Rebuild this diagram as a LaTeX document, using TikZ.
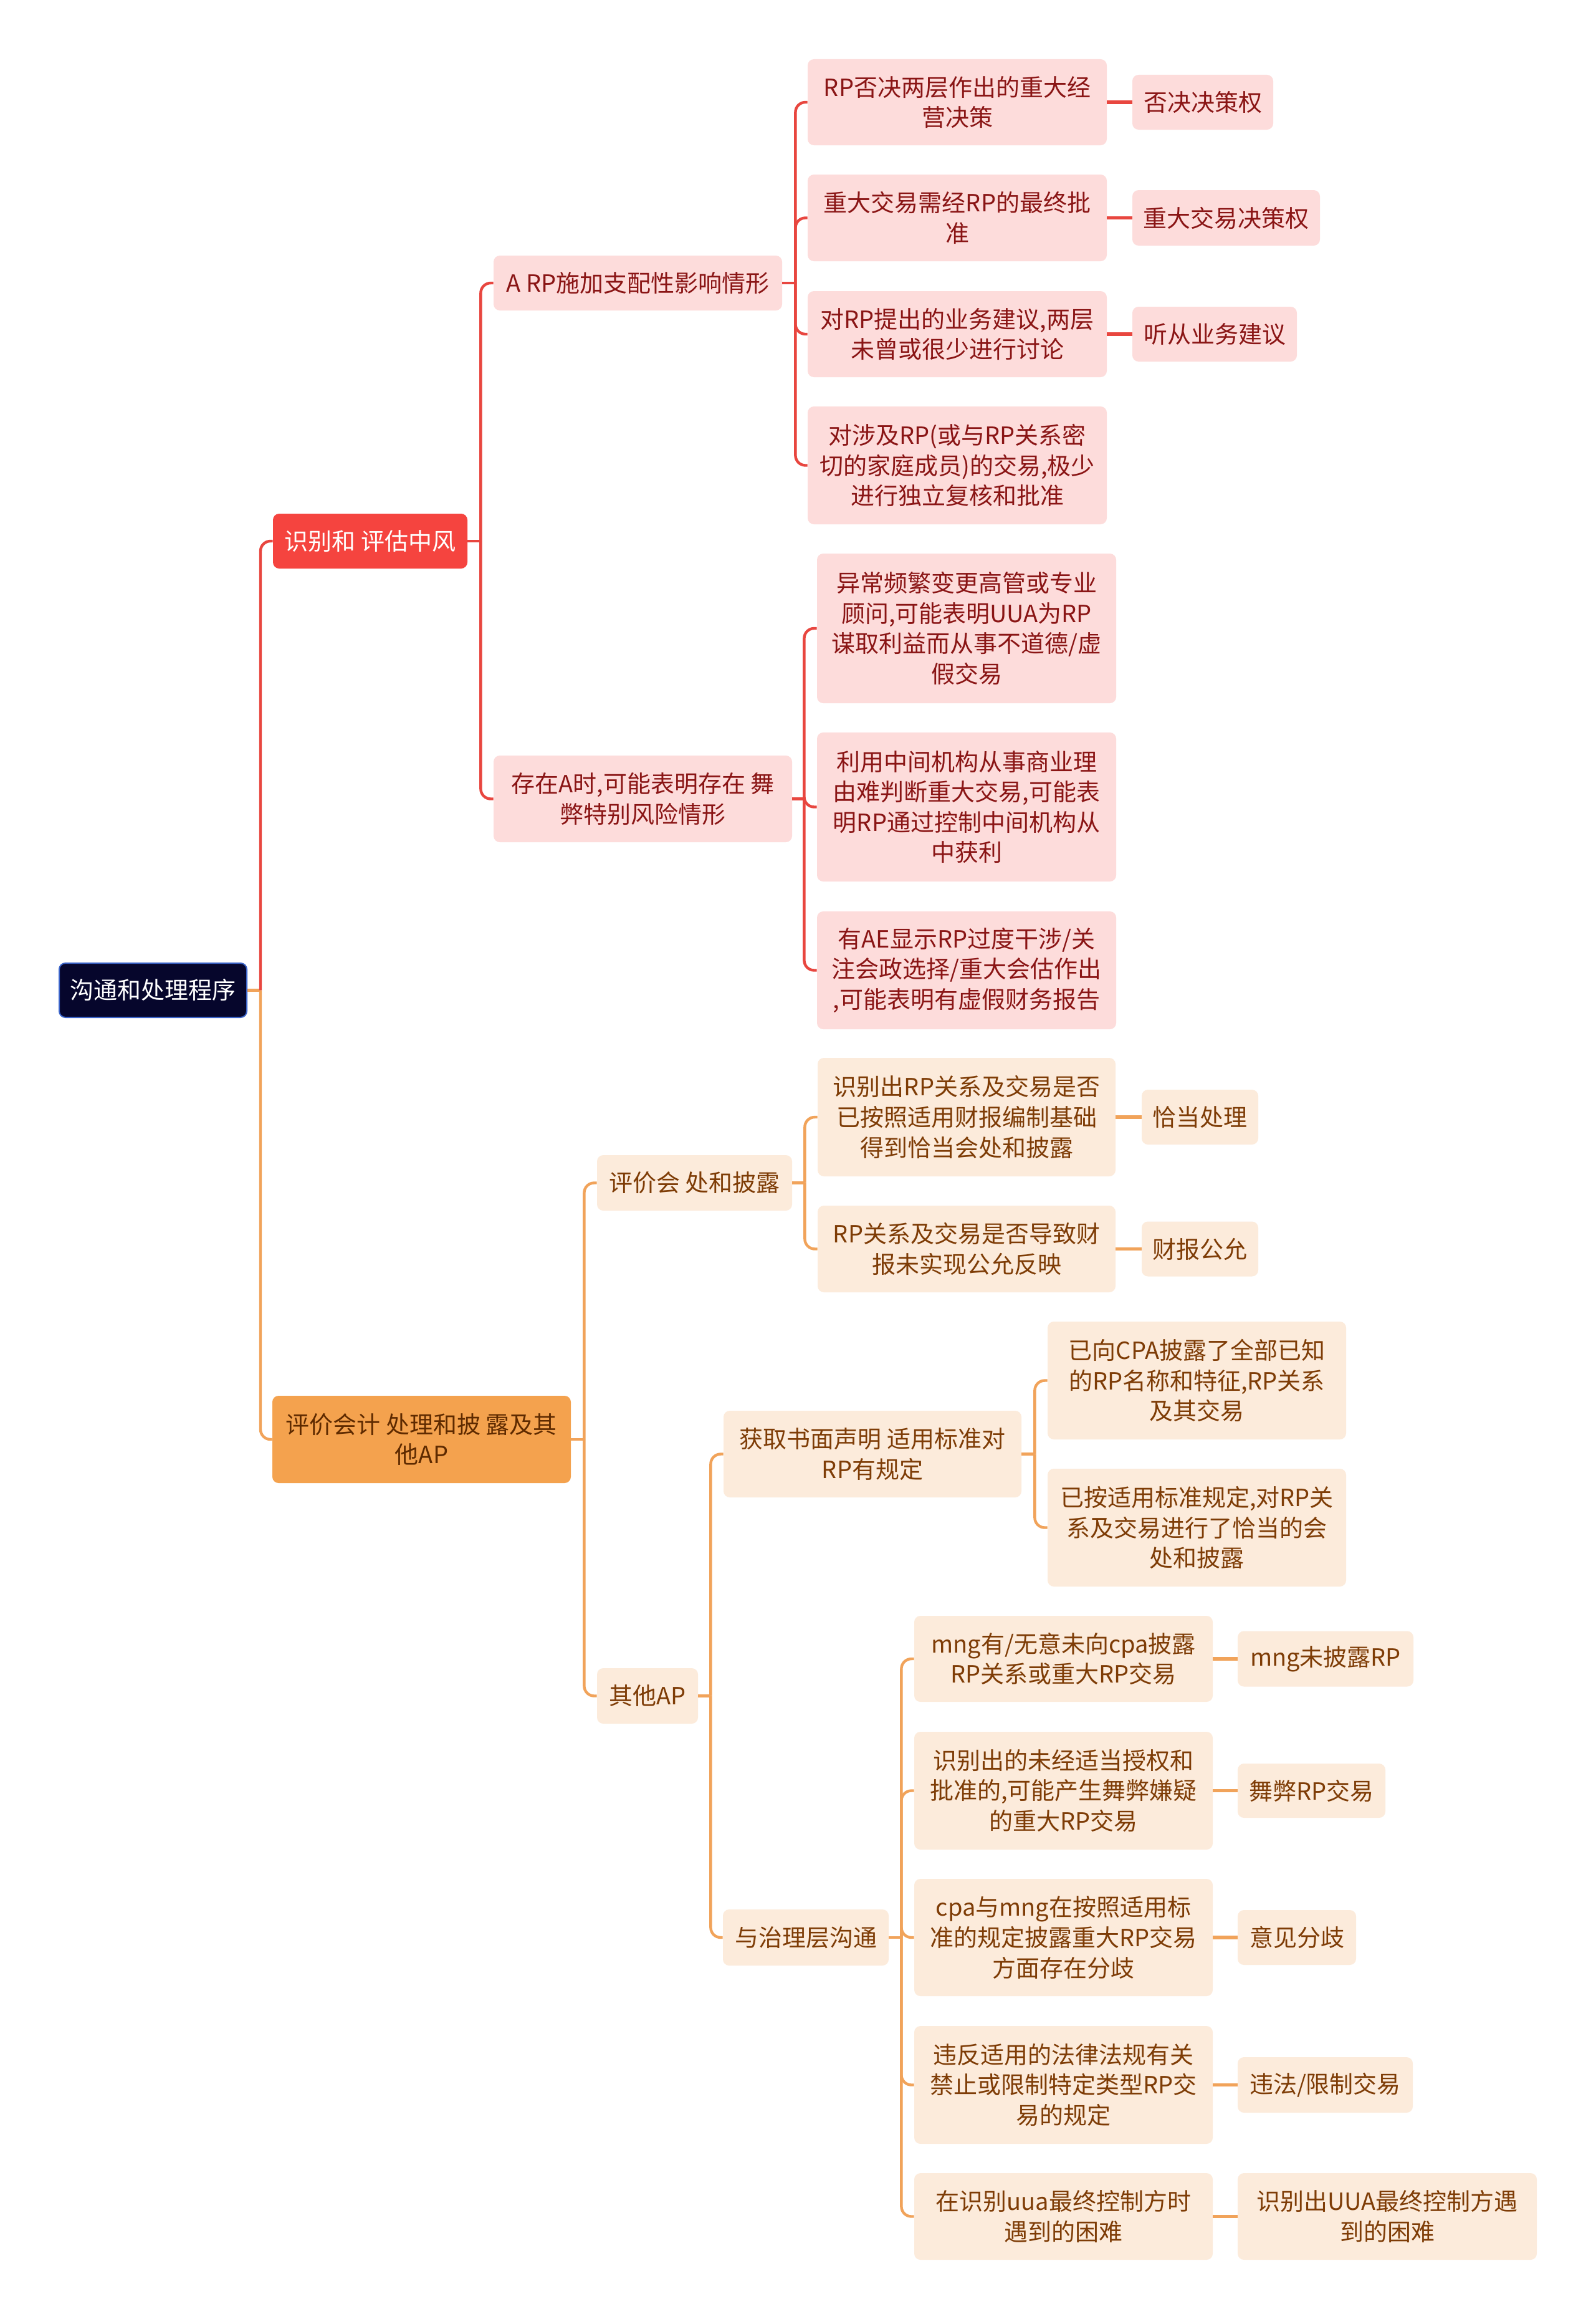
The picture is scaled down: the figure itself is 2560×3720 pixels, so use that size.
\documentclass[tikz,border=0pt]{standalone}
\usepackage{fontspec}
\setmainfont{Noto Sans CJK SC}
\definecolor{redline}{HTML}{E8463F}
\definecolor{orline}{HTML}{F1A35A}
\definecolor{pinkfill}{HTML}{FDDCDB}
\definecolor{pinktext}{HTML}{8A1515}
\definecolor{orfill}{HTML}{FCEBDB}
\definecolor{ortext}{HTML}{7E3C06}
\definecolor{rootfill}{HTML}{06062C}
\definecolor{rootdraw}{HTML}{3A63C8}
\definecolor{redfill}{HTML}{F5443F}
\definecolor{orfilltwo}{HTML}{F4A24E}
\definecolor{ortexttwo}{HTML}{5E2A00}
\begin{document}
\begin{tikzpicture}[x=0.5pt,y=-0.5pt,
  box/.style={rounded corners=5pt, inner sep=0pt, align=center,
    font=\fontsize{19}{24.3}\selectfont},
  rootbox/.style={box, fill=rootfill, draw=rootdraw, line width=1pt, text=white},
  redbox/.style={box, fill=redfill, text=white},
  orbig/.style={box, fill=orfilltwo, text=ortexttwo},
  pinkbox/.style={box, fill=pinkfill, text=pinktext},
  orbox/.style={box, fill=orfill, text=ortext},
  rl/.style={draw=redline, line width=2.2pt, rounded corners=8pt},
  ol/.style={draw=orline, line width=2.2pt, rounded corners=8pt},
  rleaf/.style={draw=redline, line width=2.6pt},
  oleaf/.style={draw=orline, line width=2.6pt}]
\useasboundingbox[fill=white] (0,0) rectangle (2560,3720);

% root and level 1
\node[rootbox, minimum width=150.5pt, minimum height=43.5pt] (root) at (245.5,1588.5) {沟通和处理程序};
\node[redbox, minimum width=156pt, minimum height=44pt] (n1) at (594,868) {识别和 评估中风};
\node[orbig, minimum width=239.5pt, minimum height=70pt] (n2) at (676.5,2309) {评价会计 处理和披 露及其\\他AP};

% level 2 red
\node[pinkbox, minimum width=231.5pt, minimum height=44pt] (n11) at (1023.5,454) {A RP施加支配性影响情形};
\node[pinkbox, minimum width=239.5pt, minimum height=69.5pt] (n12) at (1031.5,1281.5) {存在A时,可能表明存在 舞\\弊特别风险情形};

% level 3 under n11
\node[pinkbox, minimum width=240pt, minimum height=69pt] (n111) at (1536,164) {RP否决两层作出的重大经\\营决策};
\node[pinkbox, minimum width=240pt, minimum height=69.5pt] (n112) at (1536,349.5) {重大交易需经RP的最终批\\准};
\node[pinkbox, minimum width=240pt, minimum height=69pt] (n113) at (1536,536) {对RP提出的业务建议,两层\\未曾或很少进行讨论};
\node[pinkbox, minimum width=240pt, minimum height=94.5pt] (n114) at (1536,746.5) {对涉及RP(或与RP关系密\\切的家庭成员)的交易,极少\\进行独立复核和批准};
\node[pinkbox, minimum width=113pt, minimum height=44pt] (n1111) at (1930,164) {否决决策权};
\node[pinkbox, minimum width=150.5pt, minimum height=44.5pt] (n1121) at (1967.5,349.5) {重大交易决策权};
\node[pinkbox, minimum width=132pt, minimum height=44pt] (n1131) at (1949,536) {听从业务建议};

% level 3 under n12
\node[pinkbox, minimum width=240pt, minimum height=120pt] (n121) at (1551,1008) {异常频繁变更高管或专业\\顾问,可能表明UUA为RP\\谋取利益而从事不道德/虚\\假交易};
\node[pinkbox, minimum width=240pt, minimum height=119.5pt] (n122) at (1551,1294.5) {利用中间机构从事商业理\\由难判断重大交易,可能表\\明RP通过控制中间机构从\\中获利};
\node[pinkbox, minimum width=240pt, minimum height=94.5pt] (n123) at (1551,1556.5) {有AE显示RP过度干涉/关\\注会政选择/重大会估作出\\,可能表明有虚假财务报告};

% level 2 orange
\node[orbox, minimum width=156.5pt, minimum height=44.5pt] (n21) at (1114.5,1897.5) {评价会 处和披露};
\node[orbox, minimum width=81pt, minimum height=44.5pt] (n22) at (1039,2720.5) {其他AP};

\node[orbox, minimum width=239pt, minimum height=95pt] (n211) at (1551,1792) {识别出RP关系及交易是否\\已按照适用财报编制基础\\得到恰当会处和披露};
\node[orbox, minimum width=239pt, minimum height=69.5pt] (n212) at (1551,2003.5) {RP关系及交易是否导致财\\报未实现公允反映};
\node[orbox, minimum width=93.5pt, minimum height=44pt] (n2111) at (1925.5,1792) {恰当处理};
\node[orbox, minimum width=93.5pt, minimum height=44pt] (n2121) at (1925.5,2003.5) {财报公允};

\node[orbox, minimum width=239pt, minimum height=69.5pt] (n221) at (1400,2332.5) {获取书面声明 适用标准对\\RP有规定};
\node[orbox, minimum width=133pt, minimum height=45pt] (n222) at (1293,3108) {与治理层沟通};

\node[orbox, minimum width=239.5pt, minimum height=94.5pt] (n2211) at (1920.5,2214.5) {已向CPA披露了全部已知\\的RP名称和特征,RP关系\\及其交易};
\node[orbox, minimum width=239.5pt, minimum height=94.5pt] (n2212) at (1920.5,2450.5) {已按适用标准规定,对RP关\\系及交易进行了恰当的会\\处和披露};

\node[orbox, minimum width=239.5pt, minimum height=69pt] (n2221) at (1706.5,2661) {mng有/无意未向cpa披露\\RP关系或重大RP交易};
\node[orbox, minimum width=239.5pt, minimum height=94.5pt] (n2222) at (1706.5,2872.5) {识别出的未经适当授权和\\批准的,可能产生舞弊嫌疑\\的重大RP交易};
\node[orbox, minimum width=239.5pt, minimum height=94pt] (n2223) at (1706.5,3108) {cpa与mng在按照适用标\\准的规定披露重大RP交易\\方面存在分歧};
\node[orbox, minimum width=239.5pt, minimum height=94.5pt] (n2224) at (1706.5,3344.5) {违反适用的法律法规有关\\禁止或限制特定类型RP交\\易的规定};
\node[orbox, minimum width=239.5pt, minimum height=69.5pt] (n2225) at (1706.5,3555.5) {在识别uua最终控制方时\\遇到的困难};

\node[orbox, minimum width=141pt, minimum height=44.5pt] (n22211) at (2127,2661) {mng未披露RP};
\node[orbox, minimum width=118.5pt, minimum height=43.5pt] (n22221) at (2104.5,2872.5) {舞弊RP交易};
\node[orbox, minimum width=95pt, minimum height=44pt] (n22231) at (2081,3108) {意见分歧};
\node[orbox, minimum width=140.5pt, minimum height=44.5pt] (n22241) at (2126.5,3344.5) {违法/限制交易};
\node[orbox, minimum width=240pt, minimum height=69.5pt] (n22251) at (2226,3555.5) {识别出UUA最终控制方遇\\到的困难};

% connectors: root
\draw[ol] (root.east) -- ++(21,0) coordinate (t0);
\draw[rl] (t0) |- (n1.west);
\draw[ol] (t0) |- (n2.west);
% n1
\draw[rl] (n1.east) -- ++(21,0) coordinate (t1);
\draw[rl] (t1) |- (n11.west);
\draw[rl] (t1) |- (n12.west);
% n11
\draw[rl] (n11.east) -- ++(21,0) coordinate (t11);
\foreach \c in {n111,n112,n113,n114} \draw[rl] (t11) |- (\c.west);
\draw[rleaf] (n111.east) -- (n1111.west);
\draw[rleaf] (n112.east) -- (n1121.west);
\draw[rleaf] (n113.east) -- (n1131.west);
% n12
\draw[rl] (n12.east) -- ++(19,0) coordinate (t12);
\foreach \c in {n121,n122,n123} \draw[rl] (t12) |- (\c.west);
% n2
\draw[ol] (n2.east) -- ++(21,0) coordinate (t2);
\draw[ol] (t2) |- (n21.west);
\draw[ol] (t2) |- (n22.west);
% n21
\draw[ol] (n21.east) -- ++(20,0) coordinate (t21);
\draw[ol] (t21) |- (n211.west);
\draw[ol] (t21) |- (n212.west);
\draw[oleaf] (n211.east) -- (n2111.west);
\draw[oleaf] (n212.east) -- (n2121.west);
% n22
\draw[ol] (n22.east) -- ++(20,0) coordinate (t22);
\draw[ol] (t22) |- (n221.west);
\draw[ol] (t22) |- (n222.west);
% n221
\draw[ol] (n221.east) -- ++(21,0) coordinate (t221);
\draw[ol] (t221) |- (n2211.west);
\draw[ol] (t221) |- (n2212.west);
% n222
\draw[ol] (n222.east) -- ++(20,0) coordinate (t222);
\foreach \c in {n2221,n2222,n2223,n2224,n2225} \draw[ol] (t222) |- (\c.west);
\draw[oleaf] (n2221.east) -- (n22211.west);
\draw[oleaf] (n2222.east) -- (n22221.west);
\draw[oleaf] (n2223.east) -- (n22231.west);
\draw[oleaf] (n2224.east) -- (n22241.west);
\draw[oleaf] (n2225.east) -- (n22251.west);
\end{tikzpicture}
\end{document}
